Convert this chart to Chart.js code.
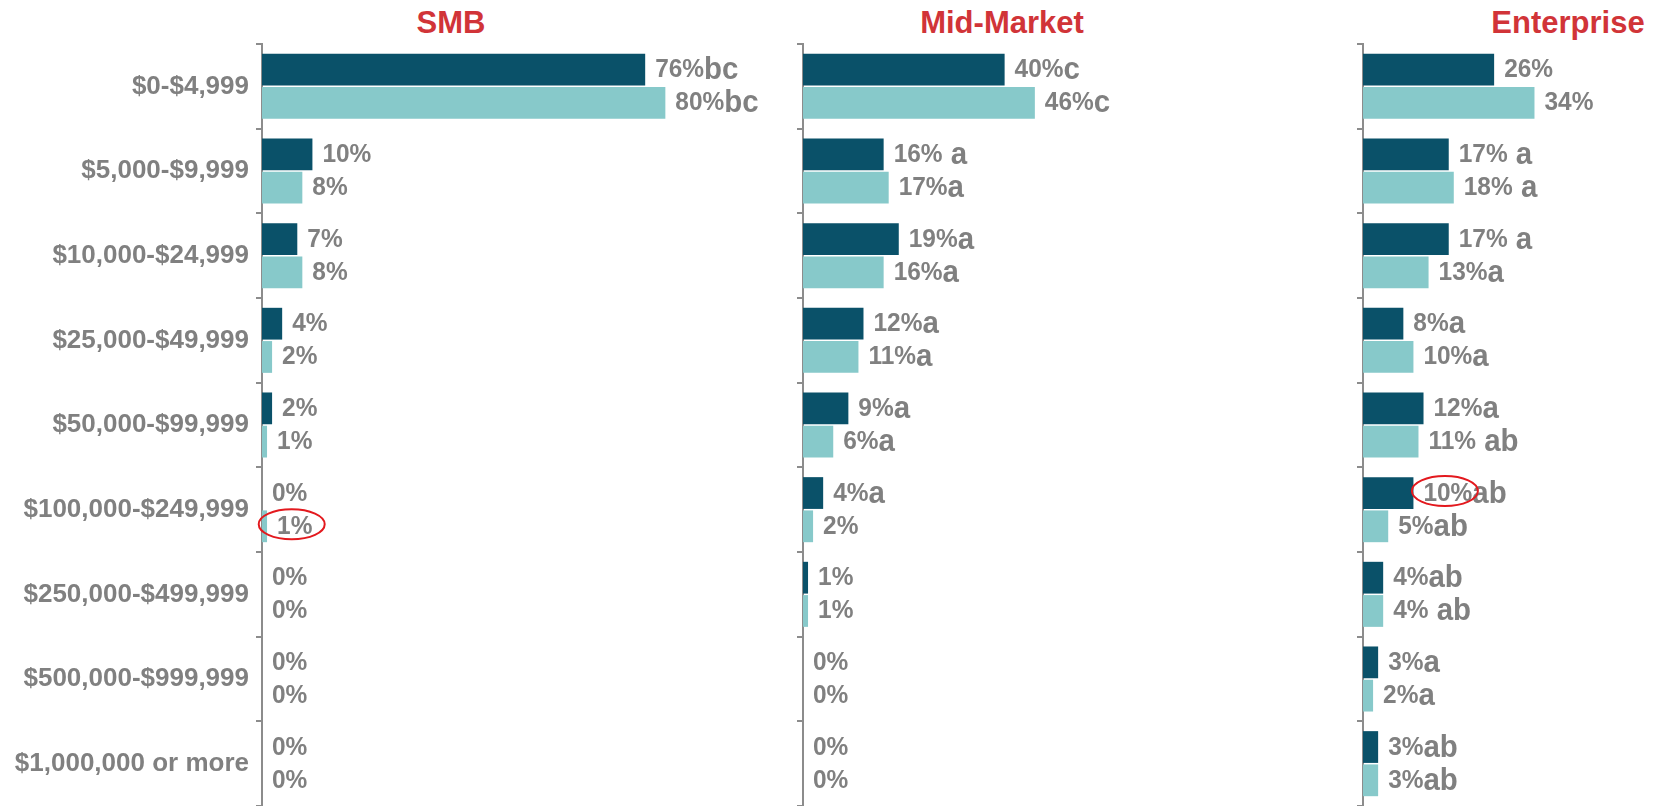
<!DOCTYPE html>
<html lang="en">
<head>
<meta charset="UTF-8">
<title>Spend by company size</title>
<script src="https://cdn.jsdelivr.net/npm/chart.js"></script>
<style>
  body {
    margin: 0;
    background: #ffffff;
    width: 1653px;
    height: 806px;
    overflow: hidden;
    position: relative;
    font-family: "Liberation Sans", Arial, sans-serif;
  }
  .title {
    position: absolute;
    top: 7px;
    transform: translateX(-50%);
    color: #D13438;
    font-weight: bold;
    font-size: 31px;
    line-height: 31px;
    white-space: nowrap;
  }
  canvas {
    position: absolute;
    top: 0;
  }
</style>
</head>
<body>
<div class="title" style="left:451px">SMB</div>
<div class="title" style="left:1002px">Mid-Market</div>
<div class="title" style="left:1568px">Enterprise</div>

<canvas id="smb" width="803" height="806" style="left:0px"></canvas>
<canvas id="mid" width="570" height="806" style="left:793px"></canvas>
<canvas id="ent" width="300" height="806" style="left:1353px"></canvas>

<script>
// Spend ranges (y axis)
const categories = [
  '$0-$4,999', '$5,000-$9,999', '$10,000-$24,999', '$25,000-$49,999',
  '$50,000-$99,999', '$100,000-$249,999', '$250,000-$499,999',
  '$500,000-$999,999', '$1,000,000 or more'
];

// Percentages per segment: dark bar (first) and light bar (second)
const smbDark  = [76, 10, 7, 4, 2, 0, 0, 0, 0];
const smbLight = [80, 8, 8, 2, 1, 1, 0, 0, 0];
const midDark  = [40, 16, 19, 12, 9, 4, 1, 0, 0];
const midLight = [46, 17, 16, 11, 6, 2, 1, 0, 0];
const entDark  = [26, 17, 17, 8, 12, 10, 4, 3, 3];
const entLight = [34, 18, 13, 10, 11, 5, 4, 2, 3];

// Significance letters shown after each value
const smbDarkSig  = ['bc', '', '', '', '', '', '', '', ''];
const smbLightSig = ['bc', '', '', '', '', '', '', '', ''];
const midDarkSig  = ['c', ' a', 'a', 'a', 'a', 'a', '', '', ''];
const midLightSig = ['c', 'a', 'a', 'a', 'a', '', '', '', ''];
const entDarkSig  = ['', ' a', ' a', 'a', 'a', 'ab', 'ab', 'a', 'ab'];
const entLightSig = ['', ' a', 'a', 'a', ' ab', 'ab', ' ab', 'a', 'ab'];

// Values circled in red: [datasetIndex, categoryIndex]
const smbCircled = [[1, 5]];
const entCircled = [[0, 5]];

const DARK = '#0A5169';
const LIGHT = '#87C9CA';
const GREY = '#808080';
const AXIS = '#8C8C8C';
const FONT = '"Liberation Sans", Arial, sans-serif';

// text squeezed a little horizontally, returns drawn width
function drawNarrow(ctx, text, x, y, font, sx) {
  ctx.save();
  ctx.font = font;
  ctx.translate(x, y);
  ctx.scale(sx, 1);
  ctx.fillText(text, 0, 0);
  const w = ctx.measureText(text).width * sx;
  ctx.restore();
  return w;
}

// draws "76%" + letters at the end of each bar, plus the red ellipses
const barLabels = {
  id: 'barLabels',
  afterDatasetsDraw(chart) {
    const ctx = chart.ctx;
    const circled = chart.options.plugins.barLabels.circled || [];
    ctx.save();
    ctx.textAlign = 'left';
    ctx.textBaseline = 'alphabetic';
    ctx.fillStyle = GREY;
    chart.data.datasets.forEach((ds, di) => {
      const meta = chart.getDatasetMeta(di);
      meta.data.forEach((bar, i) => {
        const num = ds.data[i] + '%';
        const x = bar.x + 10;
        const y = bar.y + 7.5;
        const w = drawNarrow(ctx, num, x, y, 'bold 26px ' + FONT, 0.94);
        if (ds.sig[i]) {
          drawNarrow(ctx, ds.sig[i], x + w, y + 2, 'bold 32px ' + FONT, 0.92);
        }
        if (circled.some(c => c[0] === di && c[1] === i)) {
          ctx.beginPath();
          ctx.ellipse(x + w / 2 - 3, bar.y - 2, 33, 15, 0, 0, Math.PI * 2);
          ctx.strokeStyle = '#E3191E';
          ctx.lineWidth = 2;
          ctx.stroke();
        }
      });
    });
    ctx.restore();
  }
};

function makeChart(id, dark, light, darkSig, lightSig, max, axisWidth, showLabels, circled) {
  return new Chart(document.getElementById(id), {
    type: 'bar',
    data: {
      labels: categories,
      datasets: [
        { label: 'Dark', data: dark, sig: darkSig, backgroundColor: DARK },
        { label: 'Light', data: light, sig: lightSig, backgroundColor: LIGHT }
      ]
    },
    options: {
      indexAxis: 'y',
      responsive: false,
      animation: false,
      layout: { padding: { top: 44, left: 0, right: 0, bottom: 0 } },
      datasets: {
        bar: { categoryPercentage: 0.786, barPercentage: 0.955 }
      },
      scales: {
        x: { display: false, min: 0, max: max },
        y: {
          offset: true,
          afterFit: (scale) => {
            scale.width = axisWidth;
            scale.paddingTop = 0;
            scale.paddingBottom = 0;
          },
          border: { display: true, color: AXIS, width: 2 },
          grid: {
            offset: true,
            drawOnChartArea: false,
            drawTicks: true,
            tickLength: 6,
            color: AXIS,
            lineWidth: 2
          },
          ticks: {
            display: showLabels,
            color: GREY,
            padding: 7,
            font: { family: FONT, size: 26, weight: 'bold' }
          }
        }
      },
      plugins: {
        legend: { display: false },
        tooltip: { enabled: false },
        barLabels: { circled: circled }
      }
    },
    plugins: [barLabels]
  });
}

makeChart('smb', smbDark, smbLight, smbDarkSig, smbLightSig, 107.3, 262, true, smbCircled);
makeChart('mid', midDark, midLight, midDarkSig, midLightSig, 111.1, 10, false, []);
makeChart('ent', entDark, entLight, entDarkSig, entLightSig, 57.5, 10, false, entCircled);
</script>
</body>
</html>
